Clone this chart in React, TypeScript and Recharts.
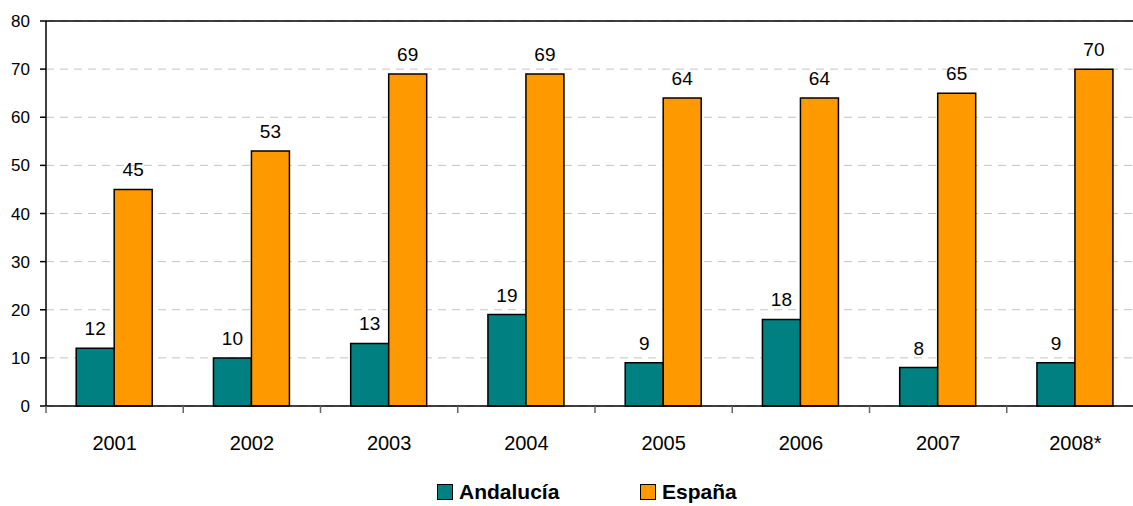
import React from 'react';
import { BarChart, Bar, XAxis, YAxis, CartesianGrid, ReferenceLine, LabelList } from 'recharts';

const years = ['2001', '2002', '2003', '2004', '2005', '2006', '2007', '2008*'];
const andalucia = [12, 10, 13, 19, 9, 18, 8, 9];
const espana = [45, 53, 69, 69, 64, 64, 65, 70];
const yTicks = [0, 10, 20, 30, 40, 50, 60, 70, 80];

const data = years.map((year, i) => ({ year, andalucia: andalucia[i], espana: espana[i] }));

const CHART_W = 1144;
const PLOT_LEFT = 46;
const HALF_BAND = (CHART_W - PLOT_LEFT) / years.length / 2;

const YearTick = (props: any) => {
  const { x, y, payload } = props;
  return (
    <g>
      <line x1={x - HALF_BAND} y1={y} x2={x - HALF_BAND} y2={y + 7} stroke="#666" strokeWidth={1.5} />
      <text x={x} y={y + 44} textAnchor="middle" fontSize={20} fill="#000">
        {payload.value}
      </text>
    </g>
  );
};

const legendItems = [
  { name: 'Andalucía', color: '#008080', left: 437 },
  { name: 'España', color: '#FF9900', left: 640 },
];

export default function App() {
  return (
    <div
      style={{
        position: 'absolute',
        top: 0,
        left: 0,
        width: 1133,
        height: 506,
        overflow: 'hidden',
        background: '#fff',
        fontFamily: '"Liberation Sans", Arial, sans-serif',
      }}
    >
      <BarChart
        width={CHART_W}
        height={506}
        data={data}
        margin={{ top: 21, right: 0, bottom: 0, left: 0 }}
        barCategoryGap="22%"
        barGap={0}
      >
        <CartesianGrid vertical={false} stroke="#c4c4c4" strokeDasharray="8 6" />
        <ReferenceLine y={80} stroke="#000" strokeWidth={1.5} />
        <XAxis
          dataKey="year"
          height={100}
          stroke="#000"
          strokeWidth={1.5}
          tickLine={false}
          tickSize={0}
          tickMargin={0}
          tick={<YearTick />}
          interval={0}
        />
        <YAxis
          width={PLOT_LEFT}
          domain={[0, 80]}
          ticks={yTicks}
          interval={0}
          stroke="#000"
          strokeWidth={1.5}
          tickSize={6}
          tickMargin={10}
          tick={{ fill: '#000', fontSize: 17 }}
        />
        <Bar dataKey="andalucia" fill="#008080" stroke="#000" strokeWidth={1.5} isAnimationActive={false}>
          <LabelList dataKey="andalucia" position="top" offset={13} fill="#000" fontSize={19} />
        </Bar>
        <Bar dataKey="espana" fill="#FF9900" stroke="#000" strokeWidth={1.5} isAnimationActive={false}>
          <LabelList dataKey="espana" position="top" offset={13} fill="#000" fontSize={19} />
        </Bar>
      </BarChart>
      {legendItems.map((item) => (
        <div
          key={item.name}
          style={{
            position: 'absolute',
            top: 480,
            left: item.left,
            height: 24,
            display: 'flex',
            alignItems: 'center',
            fontSize: 21,
            fontWeight: 'bold',
            color: '#000',
            lineHeight: '24px',
            whiteSpace: 'nowrap',
          }}
        >
          <span
            style={{
              display: 'inline-block',
              width: 14,
              height: 14,
              background: item.color,
              border: '1.5px solid #000',
              marginRight: 6,
            }}
          />
          <span>{item.name}</span>
        </div>
      ))}
    </div>
  );
}
